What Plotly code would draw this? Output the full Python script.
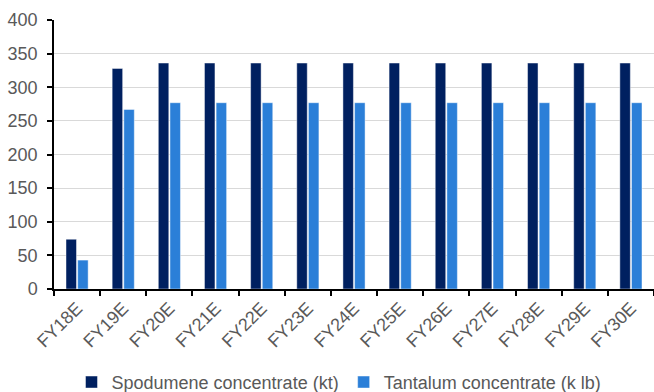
import plotly.graph_objects as go

# Production profile by fiscal year
years = ["FY18E", "FY19E", "FY20E", "FY21E", "FY22E", "FY23E", "FY24E",
         "FY25E", "FY26E", "FY27E", "FY28E", "FY29E", "FY30E"]
spodumene_kt = [74, 328, 336, 336, 336, 336, 336, 336, 336, 336, 336, 336, 336]
tantalum_klb = [43, 267, 277, 277, 277, 277, 277, 277, 277, 277, 277, 277, 277]

y_ticks = [0, 50, 100, 150, 200, 250, 300, 350, 400]

font_family = "Liberation Sans, Arial, sans-serif"
text_color = "#595959"
edge = dict(color="rgba(255,255,255,0.45)", width=1)

fig = go.Figure()
fig.add_trace(go.Bar(
    x=years, y=spodumene_kt, name="Spodumene concentrate (kt)",
    marker=dict(color="#002060", line=edge),
))
fig.add_trace(go.Bar(
    x=years, y=tantalum_klb, name="Tantalum concentrate (k lb)",
    marker=dict(color="#2B7FD8", line=edge),
))

fig.update_layout(
    width=654, height=392,
    margin=dict(l=54, r=0, t=20, b=103, autoexpand=False),
    paper_bgcolor="white", plot_bgcolor="white",
    barmode="group", bargap=0.495, bargroupgap=0.1,
    font=dict(family=font_family, size=18, color=text_color),
    showlegend=True,
    legend=dict(
        orientation="h", x=0.475, xanchor="center", y=-0.347, yanchor="middle",
        font=dict(size=18, color=text_color), itemwidth=30,
        bgcolor="rgba(0,0,0,0)",
    ),
)

fig.update_xaxes(
    type="category", tickangle=-45, tickson="boundaries", automargin=False,
    ticks="outside", ticklen=5, tickcolor="black", tickwidth=1.5,
    showline=True, linecolor="black", linewidth=1.5,
    showgrid=False, zeroline=False,
    tickfont=dict(size=18, color=text_color),
)
fig.update_yaxes(
    range=[0, 400], tickvals=y_ticks, automargin=False,
    ticks="outside", ticklen=5, tickcolor="black", tickwidth=1.5,
    showline=True, linecolor="black", linewidth=1.5,
    showgrid=True, gridcolor="#d9d9d9", gridwidth=1,
    zeroline=False, ticklabelstandoff=6,
    tickfont=dict(size=18, color=text_color),
)

fig.write_html("out.html")
